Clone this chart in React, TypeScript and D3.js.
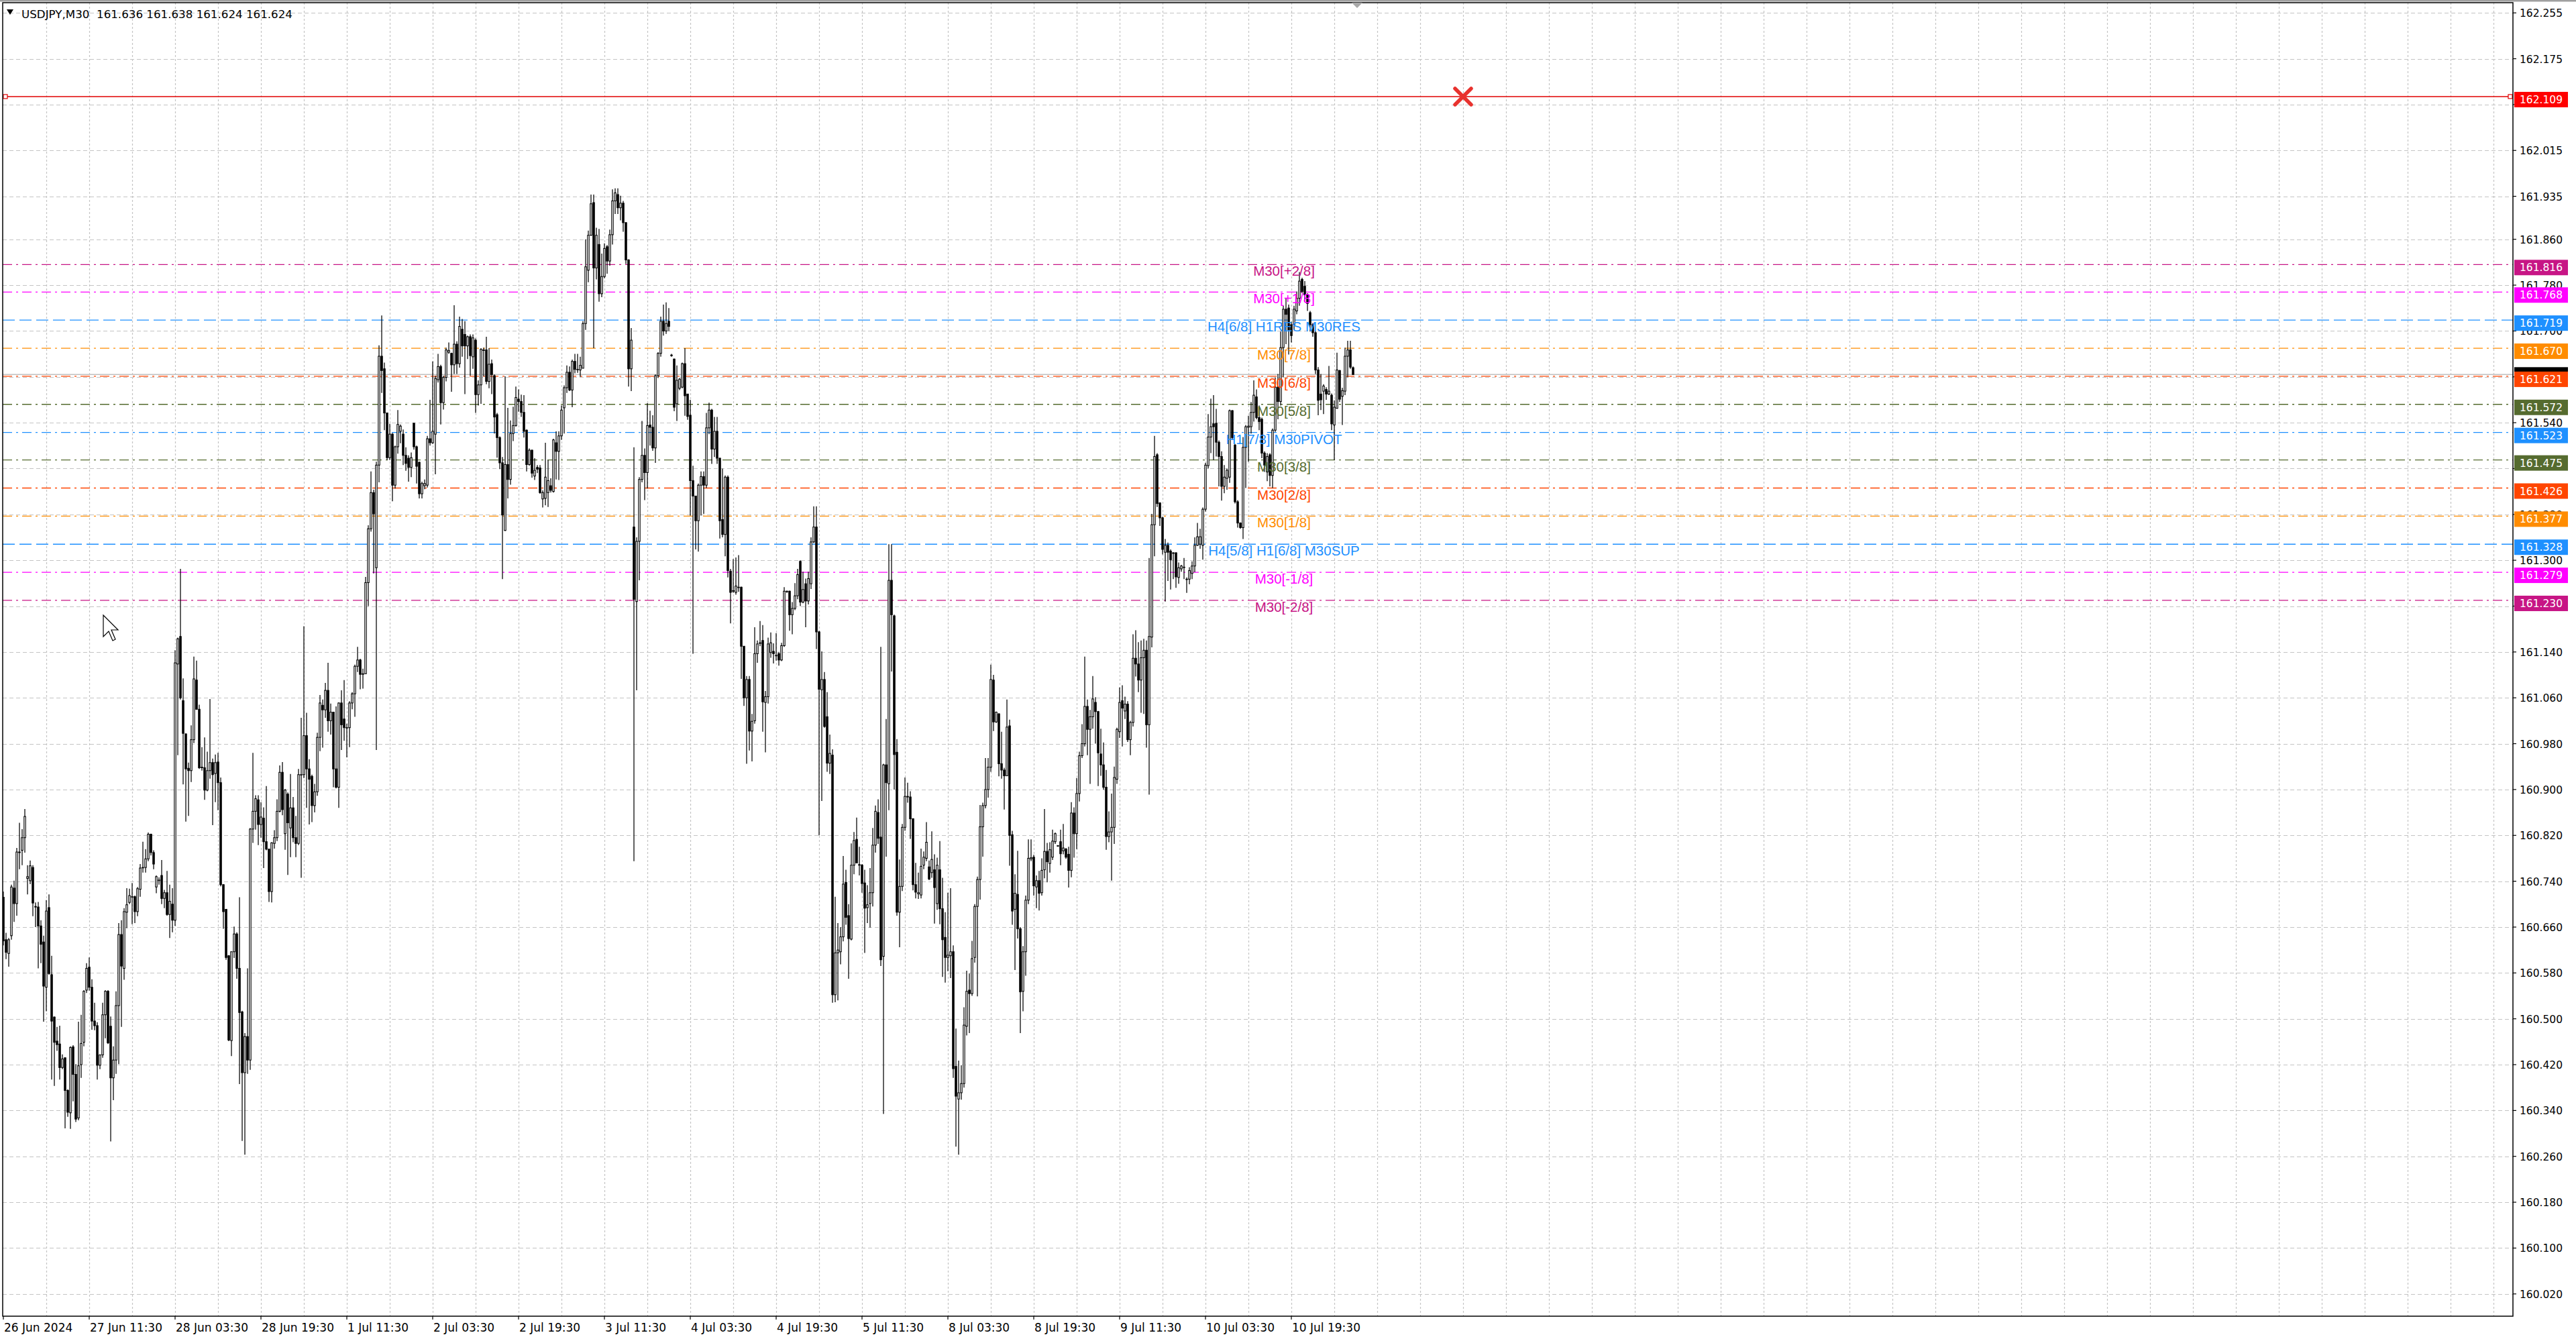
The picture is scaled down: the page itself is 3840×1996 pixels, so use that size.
import { useEffect, useRef } from 'react';
import * as d3 from 'd3';

const symbolTitle = 'USDJPY,M30  161.636 161.638 161.624 161.624';

// one label every 32 bars, starting at bar 0
const timeLabels = [
  '26 Jun 2024', '27 Jun 11:30', '28 Jun 03:30', '28 Jun 19:30', '1 Jul 11:30', '2 Jul 03:30',
  '2 Jul 19:30', '3 Jul 11:30', '4 Jul 03:30', '4 Jul 19:30', '5 Jul 11:30', '8 Jul 03:30',
  '8 Jul 19:30', '9 Jul 11:30', '10 Jul 03:30', '10 Jul 19:30',
];

const priceTicks = [
  162.255, 162.175, 162.095, 162.015, 161.935, 161.86, 161.78, 161.7, 161.62, 161.54,
  161.46, 161.38, 161.3, 161.22, 161.14, 161.06, 160.98, 160.9, 160.82, 160.74,
  160.66, 160.58, 160.5, 160.42, 160.34, 160.26, 160.18, 160.1, 160.02,
];
// tick labels that sit under a price box
const hiddenTicks = [162.095, 161.62, 161.46];

const levelPrices = [161.816, 161.768, 161.719, 161.67, 161.621, 161.572, 161.523, 161.475, 161.426, 161.377, 161.328, 161.279, 161.23];
const levelNames = [
  'M30[+2/8]', 'M30[+1/8]', 'H4[6/8] H1RES M30RES', 'M30[7/8]', 'M30[6/8]', 'M30[5/8]',
  'H1[7/8] M30PIVOT', 'M30[3/8]', 'M30[2/8]', 'M30[1/8]', 'H4[5/8] H1[6/8] M30SUP', 'M30[-1/8]', 'M30[-2/8]',
];
const alertPrice = 162.109;
const bidPrice = 161.624;

// M30 bars, values in thousandths above 160.000
const opens = [
  712, 638, 614, 645, 728, 701, 791, 794, 816, 745,
  741, 764, 696, 695, 662, 634, 555, 694, 577, 503,
  461, 456, 415, 432, 375, 336, 451, 403, 327, 420,
  459, 550, 590, 555, 496, 488, 419, 437, 507, 548,
  487, 397, 428, 523, 647, 588, 686, 703, 713, 713,
  687, 726, 764, 764, 779, 822, 790, 730, 742, 750,
  710, 720, 682, 700, 672, 1119, 1167, 1055, 997, 937,
  933, 987, 1091, 1040, 939, 938, 899, 933, 947, 928,
  948, 912, 734, 691, 610, 462, 617, 648, 588, 512,
  406, 469, 428, 831, 862, 882, 839, 850, 809, 796,
  722, 806, 816, 862, 930, 823, 892, 833, 868, 816,
  806, 926, 926, 994, 936, 923, 872, 896, 991, 1047,
  1039, 1073, 1020, 1035, 936, 904, 1051, 1023, 1008, 1008,
  1051, 1067, 1115, 1126, 1101, 1102, 1261, 1355, 1418, 1287,
  1466, 1656, 1634, 1557, 1479, 1520, 1431, 1498, 1525, 1520,
  1483, 1478, 1462, 1539, 1498, 1471, 1416, 1430, 1431, 1512,
  1505, 1520, 1615, 1638, 1575, 1619, 1663, 1661, 1641, 1677,
  1643, 1703, 1694, 1674, 1690, 1655, 1684, 1589, 1606, 1666,
  1667, 1612, 1643, 1622, 1554, 1514, 1470, 1352, 1467, 1441,
  1521, 1535, 1581, 1577, 1558, 1527, 1467, 1492, 1447, 1462,
  1461, 1407, 1408, 1418, 1430, 1420, 1505, 1490, 1517, 1566,
  1601, 1628, 1597, 1647, 1633, 1632, 1635, 1713, 1806, 1867,
  1924, 1810, 1851, 1765, 1795, 1847, 1822, 1868, 1927, 1938,
  1915, 1923, 1889, 1824, 1634, 1358, 1228, 1333, 1441, 1483,
  1453, 1536, 1532, 1496, 1622, 1661, 1717, 1700, 1717, 1658,
  1651, 1573, 1600, 1602, 1643, 1590, 1553, 1439, 1412, 1369,
  1431, 1446, 1431, 1531, 1562, 1494, 1525, 1478, 1371, 1345,
  1445, 1281, 1247, 1244, 1253, 1253, 1150, 1060, 1092, 1002,
  1020, 1137, 1155, 1160, 1052, 1062, 1139, 1141, 1134, 1137,
  1126, 1151, 1245, 1246, 1205, 1216, 1238, 1298, 1227, 1259,
  1229, 1259, 1332, 1358, 1175, 1074, 1092, 1027, 946, 960,
  542, 615, 617, 643, 738, 680, 639, 768, 813, 769,
  768, 737, 694, 701, 720, 803, 860, 817, 609, 943,
  910, 1265, 1203, 965, 686, 731, 834, 888, 887, 849,
  734, 718, 716, 768, 780, 765, 755, 760, 701, 760,
  692, 642, 607, 610, 617, 417, 360, 371, 387, 487,
  550, 544, 607, 696, 743, 835, 872, 900, 939, 1091,
  1018, 1032, 945, 934, 924, 1011, 821, 691, 717, 657,
  548, 617, 707, 779, 782, 730, 741, 720, 760, 792,
  771, 782, 809, 802, 809, 793, 796, 787, 759, 859,
  823, 893, 959, 980, 1045, 1005, 1027, 1052, 1036, 962,
  943, 904, 818, 826, 834, 918, 1001, 1055, 1037, 1049,
  987, 1017, 1129, 1119, 1091, 1130, 1143, 1013, 1166, 1362,
  1484, 1400, 1374, 1314, 1326, 1316, 1313, 1313, 1270, 1285,
  1288, 1267, 1267, 1277, 1290, 1326, 1328, 1326, 1389, 1465,
  1515, 1538, 1539, 1506, 1481, 1429, 1443, 1445, 1561, 1501,
  1402, 1365, 1357, 1497, 1532, 1533, 1558, 1585, 1549, 1546,
  1487, 1454, 1484, 1448, 1527, 1602, 1577, 1671, 1738, 1740,
  1711, 1711, 1735, 1757, 1790, 1778, 1763, 1732, 1711, 1697,
  1632, 1590, 1595, 1598, 1590, 1588, 1536, 1565, 1631, 1586,
  1595, 1656, 1667, 1636,
];
const highs = [
  722, 650, 641, 734, 741, 798, 842, 831, 866, 768,
  776, 768, 703, 704, 672, 645, 707, 717, 610, 504,
  486, 488, 438, 432, 377, 452, 454, 421, 495, 507,
  550, 597, 607, 569, 528, 494, 438, 528, 550, 550,
  504, 452, 548, 667, 672, 693, 728, 727, 737, 715,
  730, 770, 809, 796, 825, 823, 794, 750, 747, 777,
  725, 758, 734, 728, 1143, 1165, 1285, 1094, 998, 947,
  1012, 1132, 1125, 1048, 974, 991, 966, 1058, 954, 961,
  964, 921, 735, 691, 611, 617, 661, 651, 712, 514,
  475, 588, 833, 964, 890, 890, 878, 869, 906, 797,
  808, 829, 883, 942, 948, 901, 895, 927, 887, 854,
  936, 1025, 1185, 1034, 953, 926, 910, 999, 1065, 1057,
  1086, 1121, 1050, 1035, 1045, 1052, 1073, 1091, 1015, 1054,
  1070, 1118, 1149, 1128, 1111, 1271, 1361, 1455, 1423, 1472,
  1675, 1727, 1645, 1557, 1538, 1522, 1500, 1562, 1537, 1528,
  1497, 1483, 1488, 1540, 1500, 1472, 1437, 1441, 1517, 1580,
  1647, 1622, 1660, 1641, 1622, 1671, 1680, 1662, 1745, 1682,
  1725, 1721, 1717, 1692, 1694, 1694, 1687, 1614, 1670, 1671,
  1690, 1670, 1650, 1624, 1557, 1516, 1480, 1621, 1566, 1544,
  1568, 1603, 1598, 1589, 1588, 1528, 1495, 1493, 1478, 1466,
  1466, 1422, 1505, 1475, 1443, 1512, 1525, 1525, 1570, 1605,
  1640, 1638, 1650, 1660, 1660, 1655, 1717, 1860, 1875, 1938,
  1938, 1880, 1878, 1835, 1853, 1850, 1877, 1947, 1949, 1949,
  1936, 1927, 1890, 1825, 1705, 1497, 1340, 1445, 1543, 1495,
  1574, 1561, 1553, 1624, 1663, 1725, 1746, 1750, 1740, 1660,
  1652, 1640, 1618, 1645, 1670, 1590, 1580, 1465, 1412, 1434,
  1455, 1455, 1557, 1575, 1564, 1550, 1550, 1479, 1460, 1448,
  1448, 1285, 1302, 1305, 1309, 1254, 1150, 1098, 1098, 1032,
  1183, 1160, 1194, 1187, 1072, 1165, 1174, 1155, 1173, 1140,
  1156, 1253, 1247, 1247, 1227, 1260, 1285, 1300, 1280, 1268,
  1280, 1340, 1394, 1394, 1177, 1141, 1105, 1070, 996, 970,
  713, 667, 660, 784, 760, 700, 806, 826, 851, 800,
  770, 760, 733, 763, 833, 872, 883, 1149, 945, 1023,
  1328, 1328, 1205, 988, 778, 840, 921, 912, 897, 850,
  772, 755, 797, 792, 843, 776, 827, 787, 781, 810,
  746, 686, 720, 728, 628, 483, 427, 419, 520, 584,
  579, 636, 700, 748, 873, 877, 955, 955, 1118, 1100,
  1036, 1033, 1001, 938, 1057, 1022, 828, 752, 793, 660,
  627, 715, 813, 813, 786, 750, 758, 780, 866, 807,
  808, 830, 825, 803, 830, 840, 798, 800, 878, 869,
  920, 966, 1014, 1132, 1057, 1039, 1098, 1061, 1037, 1006,
  982, 934, 862, 893, 940, 1008, 1078, 1082, 1062, 1054,
  1020, 1171, 1178, 1157, 1160, 1163, 1160, 1304, 1381, 1517,
  1487, 1401, 1376, 1337, 1331, 1319, 1314, 1314, 1296, 1292,
  1304, 1270, 1288, 1298, 1340, 1365, 1355, 1392, 1470, 1555,
  1582, 1588, 1564, 1509, 1490, 1466, 1460, 1563, 1562, 1503,
  1405, 1366, 1515, 1536, 1552, 1576, 1614, 1598, 1570, 1549,
  1490, 1487, 1487, 1530, 1619, 1625, 1699, 1744, 1757, 1746,
  1716, 1744, 1769, 1803, 1793, 1787, 1766, 1735, 1714, 1700,
  1637, 1625, 1607, 1602, 1639, 1591, 1579, 1662, 1632, 1601,
  1671, 1683, 1683, 1638,
];
const lows = [
  628, 604, 591, 638, 669, 680, 761, 768, 790, 717,
  735, 679, 660, 588, 597, 495, 513, 577, 394, 383,
  444, 394, 412, 309, 329, 308, 356, 320, 323, 397,
  452, 545, 549, 481, 480, 394, 412, 432, 466, 456,
  286, 358, 404, 421, 486, 568, 658, 700, 665, 667,
  679, 713, 755, 755, 775, 785, 761, 719, 734, 700,
  693, 680, 641, 651, 662, 960, 1057, 909, 844, 854,
  913, 981, 1040, 936, 933, 882, 897, 919, 838, 878,
  864, 731, 657, 603, 461, 435, 606, 570, 386, 287,
  263, 404, 411, 807, 830, 803, 816, 763, 794, 704,
  703, 797, 810, 860, 855, 795, 751, 782, 808, 782,
  803, 746, 920, 868, 839, 843, 860, 889, 967, 973,
  1025, 1001, 996, 904, 902, 868, 969, 985, 956, 974,
  1040, 1027, 1105, 1075, 1076, 1102, 1220, 1350, 1277, 969,
  1436, 1592, 1527, 1475, 1475, 1403, 1425, 1486, 1504, 1466,
  1456, 1437, 1445, 1493, 1434, 1408, 1408, 1424, 1427, 1500,
  1503, 1450, 1610, 1537, 1563, 1612, 1660, 1594, 1625, 1625,
  1636, 1655, 1590, 1651, 1622, 1634, 1557, 1570, 1573, 1621,
  1607, 1600, 1590, 1521, 1479, 1459, 1267, 1351, 1408, 1432,
  1508, 1533, 1559, 1550, 1514, 1455, 1465, 1444, 1440, 1452,
  1416, 1392, 1396, 1393, 1418, 1418, 1441, 1440, 1510, 1521,
  1592, 1595, 1567, 1626, 1627, 1620, 1635, 1702, 1785, 1866,
  1670, 1790, 1751, 1759, 1792, 1800, 1814, 1851, 1904, 1904,
  1893, 1873, 1817, 1603, 1595, 775, 1073, 1265, 1436, 1405,
  1425, 1500, 1491, 1470, 1618, 1655, 1692, 1695, 1700, 1655,
  1560, 1543, 1597, 1600, 1552, 1545, 1378, 1137, 1319, 1315,
  1378, 1381, 1426, 1520, 1468, 1480, 1468, 1338, 1340, 1307,
  1270, 1190, 1243, 1240, 1245, 1093, 1046, 945, 968, 949,
  1015, 1121, 1150, 1001, 965, 1050, 1130, 1120, 1125, 1116,
  1124, 1149, 1243, 1177, 1171, 1213, 1232, 1220, 1225, 1183,
  1223, 1250, 1330, 1145, 820, 880, 1008, 931, 927, 528,
  529, 532, 595, 635, 664, 570, 637, 752, 772, 750,
  720, 615, 667, 659, 696, 790, 805, 592, 334, 783,
  864, 1106, 900, 680, 625, 723, 828, 877, 814, 724,
  710, 709, 710, 761, 775, 742, 746, 666, 690, 665,
  573, 563, 583, 571, 397, 277, 263, 359, 380, 471,
  475, 540, 598, 539, 708, 783, 867, 886, 931, 1002,
  1016, 923, 919, 865, 924, 767, 664, 585, 640, 475,
  513, 575, 700, 775, 715, 693, 689, 715, 745, 738,
  755, 777, 805, 800, 768, 787, 779, 729, 747, 781,
  796, 879, 955, 975, 960, 910, 1006, 980, 906, 924,
  900, 795, 808, 741, 805, 910, 990, 975, 1023, 983,
  960, 1010, 1097, 1070, 1034, 1032, 973, 891, 1148, 1307,
  1393, 1360, 1310, 1228, 1264, 1249, 1267, 1252, 1259, 1280,
  1267, 1243, 1258, 1267, 1279, 1325, 1320, 1301, 1385, 1460,
  1487, 1475, 1481, 1429, 1404, 1417, 1423, 1435, 1510, 1399,
  1357, 1355, 1337, 1426, 1472, 1521, 1542, 1546, 1527, 1478,
  1454, 1438, 1429, 1426, 1524, 1546, 1570, 1619, 1677, 1659,
  1680, 1702, 1729, 1744, 1766, 1751, 1735, 1699, 1690, 1625,
  1553, 1562, 1555, 1580, 1588, 1527, 1475, 1565, 1576, 1536,
  1588, 1619, 1634, 1624,
];
const closes = [
  636, 616, 638, 730, 701, 791, 790, 816, 853, 748,
  767, 702, 695, 662, 630, 557, 688, 579, 496, 459,
  455, 415, 430, 375, 337, 450, 403, 325, 418, 457,
  548, 588, 555, 496, 488, 419, 437, 507, 548, 458,
  397, 428, 523, 647, 592, 687, 699, 715, 713, 687,
  727, 763, 764, 779, 822, 790, 770, 748, 742, 710,
  720, 682, 705, 672, 1121, 1163, 1060, 998, 936, 933,
  987, 1093, 1040, 938, 938, 899, 933, 947, 926, 947,
  912, 734, 687, 607, 463, 617, 648, 588, 511, 406,
  469, 428, 831, 862, 884, 839, 852, 809, 796, 722,
  807, 816, 862, 930, 865, 899, 842, 868, 816, 806,
  926, 926, 994, 936, 918, 872, 896, 991, 1051, 1039,
  1073, 1020, 1035, 936, 904, 1051, 1013, 1008, 1008, 1051,
  1067, 1115, 1126, 1101, 1102, 1261, 1355, 1418, 1381, 1466,
  1656, 1631, 1557, 1479, 1520, 1431, 1498, 1537, 1534, 1483,
  1469, 1462, 1479, 1498, 1464, 1416, 1434, 1434, 1512, 1505,
  1525, 1617, 1638, 1575, 1619, 1667, 1666, 1641, 1677, 1643,
  1708, 1674, 1674, 1690, 1657, 1688, 1589, 1606, 1668, 1667,
  1612, 1642, 1624, 1550, 1514, 1470, 1379, 1467, 1441, 1521,
  1535, 1584, 1577, 1558, 1525, 1467, 1492, 1452, 1457, 1459,
  1418, 1418, 1445, 1439, 1422, 1510, 1490, 1517, 1562, 1601,
  1628, 1597, 1647, 1633, 1633, 1640, 1713, 1812, 1867, 1922,
  1810, 1867, 1765, 1795, 1844, 1822, 1868, 1927, 1941, 1915,
  1923, 1889, 1824, 1634, 1684, 1232, 1333, 1441, 1483, 1453,
  1535, 1532, 1496, 1622, 1661, 1717, 1700, 1713, 1708, 1657,
  1567, 1614, 1616, 1643, 1587, 1551, 1439, 1412, 1369, 1431,
  1446, 1431, 1531, 1562, 1494, 1525, 1478, 1369, 1345, 1445,
  1282, 1244, 1246, 1255, 1253, 1150, 1060, 1092, 1002, 1019,
  1137, 1154, 1156, 1053, 1062, 1154, 1156, 1137, 1134, 1126,
  1151, 1246, 1246, 1205, 1216, 1238, 1275, 1227, 1249, 1229,
  1268, 1332, 1358, 1175, 1075, 1092, 1010, 946, 963, 542,
  615, 620, 643, 735, 677, 640, 768, 811, 772, 768,
  736, 693, 699, 720, 803, 862, 815, 603, 943, 912,
  1265, 1205, 961, 686, 731, 834, 888, 887, 849, 734,
  721, 720, 766, 782, 808, 744, 778, 729, 768, 692,
  638, 607, 611, 617, 413, 365, 371, 387, 489, 548,
  544, 605, 696, 743, 835, 872, 900, 939, 1092, 1018,
  1035, 945, 934, 924, 1009, 820, 688, 719, 657, 547,
  617, 707, 780, 781, 732, 741, 719, 759, 792, 774,
  795, 810, 823, 802, 788, 798, 782, 759, 859, 823,
  893, 959, 980, 1045, 1005, 1027, 1058, 1036, 964, 943,
  904, 818, 826, 834, 921, 1005, 1052, 1042, 1049, 987,
  1017, 1129, 1119, 1091, 1130, 1143, 1013, 1167, 1362, 1481,
  1399, 1374, 1319, 1326, 1314, 1301, 1312, 1271, 1287, 1290,
  1288, 1267, 1282, 1290, 1326, 1341, 1341, 1389, 1466, 1515,
  1533, 1533, 1506, 1481, 1429, 1445, 1457, 1561, 1514, 1402,
  1365, 1357, 1497, 1533, 1534, 1558, 1588, 1549, 1542, 1487,
  1466, 1481, 1448, 1527, 1602, 1577, 1671, 1738, 1729, 1702,
  1692, 1738, 1757, 1787, 1769, 1763, 1748, 1711, 1697, 1632,
  1579, 1580, 1604, 1590, 1595, 1538, 1567, 1632, 1581, 1596,
  1656, 1667, 1637, 1624,
];

const W = 3840;
const H = 1996;
const plot = { left: 4, top: 4, right: 3746, bottom: 1962 };
const levelColors = ['#c71585', '#ff00ff', '#1e90ff', '#ff8c00', '#ff4500', '#556b2f', '#1e90ff', '#556b2f', '#ff4500', '#ff8c00', '#1e90ff', '#ff00ff', '#c71585'];
const sansFont = '"DejaVu Sans", Verdana, sans-serif';
const arialFont = '"Liberation Sans", Arial, sans-serif';

export default function App() {
  const svgRef = useRef<SVGSVGElement>(null);

  useEffect(() => {
    if (!svgRef.current) return;
    const svg = d3.select(svgRef.current);
    svg.selectAll('*').remove();

    const toPrice = (v: number) => 160 + v / 1000;
    const n = Math.min(opens.length, highs.length, lows.length, closes.length);
    const bars = d3.range(n).map(i => ({
      i,
      o: toPrice(opens[i]),
      h: toPrice(highs[i]),
      l: toPrice(lows[i]),
      c: toPrice(closes[i]),
    }));

    // bar index -> pixel, 4px per bar
    const x = d3.scaleLinear().domain([0, 1]).range([5, 9]);
    const y = d3.scaleLinear().domain([160.02, 162.255]).range([1928.8, 19.2]);

    svg.append('rect').attr('width', W).attr('height', H).attr('fill', '#ffffff');

    svg.append('defs').append('clipPath').attr('id', 'plotClip')
      .append('rect')
      .attr('x', plot.left).attr('y', plot.top)
      .attr('width', plot.right - plot.left).attr('height', plot.bottom - plot.top);

    const g = svg.append('g').attr('clip-path', 'url(#plotClip)');

    // grid
    g.append('g').selectAll('line')
      .data(priceTicks)
      .enter().append('line')
      .attr('x1', plot.left).attr('x2', plot.right)
      .attr('y1', d => Math.round(y(d)) + 0.5).attr('y2', d => Math.round(y(d)) + 0.5)
      .attr('stroke', '#c4c4c4').attr('stroke-width', 1.2)
      .attr('stroke-dasharray', '6,4');

    const vGrid = d3.range(16, 1000, 16).filter(i => x(i) < plot.right);
    g.append('g').selectAll('line')
      .data(vGrid)
      .enter().append('line')
      .attr('x1', d => x(d) + 0.5).attr('x2', d => x(d) + 0.5)
      .attr('y1', plot.top).attr('y2', plot.bottom)
      .attr('stroke', '#c4c4c4').attr('stroke-width', 1.2)
      .attr('stroke-dasharray', '3,3');

    // bid line
    g.append('line')
      .attr('x1', plot.left).attr('x2', plot.right)
      .attr('y1', y(bidPrice)).attr('y2', y(bidPrice))
      .attr('stroke', '#c0c0c0').attr('stroke-width', 1.5);

    // murrey levels
    g.append('g').selectAll('line')
      .data(levelPrices)
      .enter().append('line')
      .attr('x1', plot.left).attr('x2', plot.right)
      .attr('y1', d => y(d)).attr('y2', d => y(d))
      .attr('stroke', (d, i) => levelColors[i])
      .attr('stroke-width', 1.3)
      .attr('stroke-dasharray', (d, i) => levelNames[i].includes('RES') || levelNames[i].includes('SUP') ? '18,7' : '14,6,3,6');

    // alert line
    g.append('line')
      .attr('x1', plot.left).attr('x2', plot.right)
      .attr('y1', y(alertPrice)).attr('y2', y(alertPrice))
      .attr('stroke', '#e00000').attr('stroke-width', 1.6);

    // candles
    const candles = g.append('g');
    candles.selectAll('.wick')
      .data(bars)
      .enter().append('line')
      .attr('class', 'wick')
      .attr('x1', d => x(d.i)).attr('x2', d => x(d.i))
      .attr('y1', d => y(d.h)).attr('y2', d => y(d.l))
      .attr('stroke', '#000').attr('stroke-width', 1.25);

    candles.selectAll('.body')
      .data(bars)
      .enter().append('rect')
      .attr('class', 'body')
      .attr('x', d => x(d.i) - 1.2)
      .attr('width', 2.4)
      .attr('y', d => y(Math.max(d.o, d.c)))
      .attr('height', d => Math.max(0.6, Math.abs(y(d.o) - y(d.c))))
      .attr('fill', d => (d.c >= d.o ? '#ffffff' : '#000000'))
      .attr('stroke', '#000').attr('stroke-width', 1.1);

    // level captions
    g.append('g').selectAll('text')
      .data(levelPrices)
      .enter().append('text')
      .attr('x', 1914)
      .attr('y', d => y(d) + 17)
      .attr('text-anchor', 'middle')
      .style('font-family', arialFont)
      .style('font-size', '20.5px')
      .style('fill', (d, i) => levelColors[i])
      .text((d, i) => levelNames[i]);

    // alert cross
    const cx = x(544);
    const cy = y(alertPrice);
    g.append('path')
      .attr('d', `M${cx - 12},${cy - 12}L${cx + 12},${cy + 12}M${cx + 12},${cy - 12}L${cx - 12},${cy + 12}`)
      .attr('stroke', '#e8322e').attr('stroke-width', 5.5).attr('stroke-linecap', 'round');

    [plot.left + 4, plot.right - 4].forEach(px => {
      g.append('rect')
        .attr('x', px - 3).attr('y', y(alertPrice) - 3)
        .attr('width', 6).attr('height', 6)
        .attr('fill', '#fff').attr('stroke', '#e00000').attr('stroke-width', 1.2);
    });

    // frame
    svg.append('rect')
      .attr('x', plot.left).attr('y', plot.top)
      .attr('width', plot.right - plot.left).attr('height', plot.bottom - plot.top)
      .attr('fill', 'none').attr('stroke', '#000').attr('stroke-width', 1.5);
    svg.append('line')
      .attr('x1', 0).attr('x2', W).attr('y1', 1).attr('y2', 1)
      .attr('stroke', '#a0a0a0').attr('stroke-width', 3);

    // price axis
    const axisG = svg.append('g');
    axisG.selectAll('.tick')
      .data(priceTicks)
      .enter().append('line')
      .attr('x1', plot.right).attr('x2', plot.right + 5)
      .attr('y1', d => y(d)).attr('y2', d => y(d))
      .attr('stroke', '#000').attr('stroke-width', 1.2);
    axisG.selectAll('.plabel')
      .data(priceTicks.filter(d => !hiddenTicks.includes(d)))
      .enter().append('text')
      .attr('x', 3756)
      .attr('y', d => y(d) + 6)
      .style('font-family', sansFont)
      .style('font-size', '15.5px')
      .style('fill', '#000')
      .text(d => d.toFixed(3));

    // current price box sits mostly under the 6/8 box
    axisG.append('rect')
      .attr('x', 3748).attr('width', 80)
      .attr('y', y(bidPrice) - 11).attr('height', 23)
      .attr('fill', '#000');

    const boxPrices = [...levelPrices, alertPrice];
    const boxColors = [...levelColors, '#ff0000'];
    const boxes = axisG.selectAll('.box')
      .data(boxPrices)
      .enter().append('g');
    boxes.append('rect')
      .attr('x', 3748).attr('width', 80)
      .attr('y', d => y(d) - 7).attr('height', 23)
      .attr('fill', (d, i) => boxColors[i]);
    boxes.append('text')
      .attr('x', 3756)
      .attr('y', d => y(d) + 10)
      .style('font-family', sansFont)
      .style('font-size', '15.5px')
      .style('fill', '#fff')
      .text(d => d.toFixed(3));

    // time axis
    const timeG = svg.append('g');
    timeG.selectAll('line')
      .data(timeLabels)
      .enter().append('line')
      .attr('x1', (d, i) => x(i * 32)).attr('x2', (d, i) => x(i * 32))
      .attr('y1', plot.bottom).attr('y2', plot.bottom + 5)
      .attr('stroke', '#000').attr('stroke-width', 1.2);
    timeG.selectAll('text')
      .data(timeLabels)
      .enter().append('text')
      .attr('x', (d, i) => x(i * 32) + 1)
      .attr('y', 1985)
      .style('font-family', sansFont)
      .style('font-size', '17px')
      .style('fill', '#000')
      .text(d => d);

    // title
    svg.append('path').attr('d', 'M10,14L20,14L15,22Z').attr('fill', '#000');
    svg.append('text')
      .attr('x', 32).attr('y', 27)
      .style('font-family', sansFont)
      .style('font-size', '16.7px')
      .style('white-space', 'pre')
      .style('fill', '#000')
      .text(symbolTitle);

    // chart shift marker
    const sx = x(n + 0.5);
    svg.append('path')
      .attr('d', `M${sx - 8},${plot.top}L${sx + 8},${plot.top}L${sx},${plot.top + 8}Z`)
      .attr('fill', '#a8a8a8');

    // mouse pointer
    svg.append('path')
      .attr('transform', 'translate(154,917) scale(2)')
      .attr('d', 'M0,0L0,16L4,12L7,19L9,18L6,11L11,11Z')
      .attr('fill', '#fff').attr('stroke', '#000').attr('stroke-width', 0.6);
  }, []);

  return (
    <svg
      ref={svgRef}
      width={W}
      height={H}
      style={{ position: 'absolute', left: 0, top: 0, display: 'block' }}
    />
  );
}
